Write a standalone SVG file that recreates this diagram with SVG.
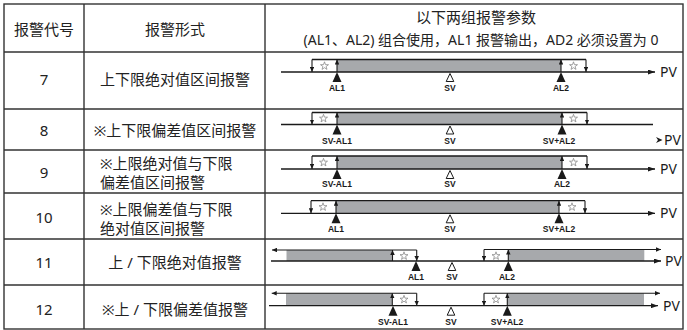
<svg xmlns="http://www.w3.org/2000/svg" width="687" height="330" viewBox="0 0 687 330">
<style>
.grid{stroke:#333;stroke-width:1.4;fill:none}
.t{font-family:"Noto Sans","Noto Sans CJK SC",sans-serif;font-size:15px;fill:#222;text-anchor:middle;dominant-baseline:central}
.tl{font-family:"Noto Sans","Noto Sans CJK SC",sans-serif;font-size:15px;fill:#222;dominant-baseline:central}
.ln{stroke:#1a1a1a;stroke-width:1.3;fill:none}
.ar{stroke:#1a1a1a;stroke-width:1.1;fill:none;marker-end:url(#sa)}
.ax{stroke:#1a1a1a;stroke-width:1.3;fill:none;marker-end:url(#ba)}
.gr{fill:#a7a9ac}
.lb{font-family:"Liberation Sans",Arial,sans-serif;font-size:8.5px;font-weight:bold;fill:#1a1a1a;text-anchor:middle}
.pv{font-family:"Noto Sans",sans-serif;font-size:14px;fill:#1a1a1a}
.st{fill:#fff;stroke:#8a8a8a;stroke-width:0.8}
.tf{fill:#1a1a1a}
.to{fill:#fff;stroke:#1a1a1a;stroke-width:1}
</style>
<defs>
<marker id="sa" viewBox="0 0 10 10" refX="10" refY="5" markerWidth="5" markerHeight="4.5" markerUnits="userSpaceOnUse" orient="auto" preserveAspectRatio="none"><path d="M0,0 L10,5 L0,10 Z" fill="#1a1a1a"/></marker>
<marker id="ba" viewBox="0 0 10 10" refX="10" refY="5" markerWidth="7" markerHeight="5" markerUnits="userSpaceOnUse" orient="auto" preserveAspectRatio="none"><path d="M0,0 L10,5 L0,10 Z" fill="#1a1a1a"/></marker>
<path id="star" class="st" d="M0,-4.2 L0.99,-1.35 L4,-1.3 L1.6,0.51 L2.47,3.4 L0,1.68 L-2.47,3.4 L-1.6,0.51 L-4,-1.3 L-0.99,-1.35 Z"/>
<path id="tf" class="tf" d="M0,0 L4.5,10 L-4.5,10 Z"/>
<path id="to" class="to" d="M0,1.5 L3.8,9.5 L-3.8,9.5 Z"/>
</defs>
<rect width="687" height="330" fill="#fff"/>
<g id="table" class="grid">
<rect x="4" y="4" width="679" height="325"/>
<path d="M84,4 V329 M265,4 V329 M4,52 H683 M4,109 H683 M4,150 H683 M4,193 H683 M4,239 H683 M4,285 H683"/>
</g>
<g id="header">
<text class="t" x="44" y="29">报警代号</text>
<text class="t" x="175" y="29">报警形式</text>
<text class="t" x="476" y="17">以下两组报警参数</text>
<text class="t" x="481" y="39" style="font-size:14px">(AL1、AL2) 组合使用，AL1 报警输出，AD2 必须设置为 0</text>
</g>
<g id="row7">
<text class="t" x="44" y="79">7</text>
<text class="t" x="175" y="79">上下限绝对值区间报警</text>
<rect class="gr" x="337" y="59.5" width="224" height="12.5"/>
<path class="ln" d="M312,59.5 H586"/>
<path class="ar" d="M312,59.5 V72"/><path class="ar" d="M337,72 V59.5"/>
<path class="ar" d="M561,72 V59.5"/><path class="ar" d="M586,59.5 V72"/>
<use href="#star" x="324.5" y="66"/><use href="#star" x="573.5" y="66"/>
<path class="ax" d="M281,72 H655"/>
<use href="#tf" x="337" y="72"/><use href="#to" x="450" y="72"/><use href="#tf" x="561" y="72"/>
<text class="lb" x="337" y="91">AL1</text><text class="lb" x="450" y="91">SV</text><text class="lb" x="561" y="91">AL2</text>
<text class="pv" x="660" y="77">PV</text>
</g>
<g id="row8">
<text class="t" x="44" y="129.5">8</text>
<text class="t" x="175" y="129.5">※上下限偏差值区间报警</text>
<rect class="gr" x="337" y="112.5" width="225" height="12"/>
<path class="ln" d="M312,112.5 H587"/>
<path class="ar" d="M312,112.5 V124.5"/><path class="ar" d="M337,124.5 V112.5"/>
<path class="ar" d="M562,124.5 V112.5"/><path class="ar" d="M587,112.5 V124.5"/>
<use href="#star" x="323.5" y="118.5"/><use href="#star" x="573.5" y="118.5"/>
<path class="ln" d="M281,124.5 H653"/>
<path class="tf" d="M656,137 L662.5,140 L656,143 L658,140 Z"/>
<use href="#tf" x="337" y="124.5"/><use href="#to" x="450" y="124.5"/><use href="#tf" x="562" y="124.5"/>
<text class="lb" x="337" y="144">SV-AL1</text><text class="lb" x="450" y="144">SV</text><text class="lb" x="559" y="144">SV+AL2</text>
<text class="pv" x="664" y="145">PV</text>
</g>
<g id="row9">
<text class="t" x="44" y="172">9</text>
<text class="tl" x="100" y="163">※上限绝对值与下限</text>
<text class="tl" x="100" y="181.5">偏差值区间报警</text>
<rect class="gr" x="337" y="156" width="225" height="13"/>
<path class="ln" d="M312,156 H587"/>
<path class="ar" d="M312,156 V169"/><path class="ar" d="M337,169 V156"/>
<path class="ar" d="M562,169 V156"/><path class="ar" d="M587,156 V169"/>
<use href="#star" x="323.5" y="162.5"/><use href="#star" x="573.5" y="162.5"/>
<path class="ax" d="M281,169 H655"/>
<use href="#tf" x="337" y="169"/><use href="#to" x="450" y="169"/><use href="#tf" x="562" y="169"/>
<text class="lb" x="337" y="187">SV-AL1</text><text class="lb" x="450" y="187">SV</text><text class="lb" x="562" y="187">AL2</text>
<text class="pv" x="660" y="174">PV</text>
</g>
<g id="row10">
<text class="t" x="44" y="216.5">10</text>
<text class="tl" x="100" y="209">※上限偏差值与下限</text>
<text class="tl" x="100" y="227.5">绝对值区间报警</text>
<rect class="gr" x="336" y="200.7" width="223" height="12.6"/>
<path class="ln" d="M311,200.7 H585"/>
<path class="ar" d="M311,200.7 V213.3"/><path class="ar" d="M336,213.3 V200.7"/>
<path class="ar" d="M559,213.3 V200.7"/><path class="ar" d="M585,200.7 V213.3"/>
<use href="#star" x="323" y="207"/><use href="#star" x="572" y="207"/>
<path class="ax" d="M281,213.3 H655"/>
<use href="#tf" x="336" y="213.3"/><use href="#to" x="450" y="213.3"/><use href="#tf" x="559" y="213.3"/>
<text class="lb" x="336" y="232">AL1</text><text class="lb" x="450" y="232">SV</text><text class="lb" x="559" y="232">SV+AL2</text>
<text class="pv" x="660" y="218">PV</text>
</g>
<g id="row11">
<text class="t" x="44" y="262">11</text>
<text class="t" x="175" y="262">上 / 下限绝对值报警</text>
<rect class="gr" x="286.5" y="250" width="106" height="11"/>
<rect class="gr" x="508.3" y="250" width="136" height="11"/>
<path class="ar" d="M416.7,250 H272"/>
<path class="ar" d="M392.5,261 V250"/><path class="ar" d="M416.7,250 V261"/>
<path class="ar" d="M484,249.5 H661"/>
<path class="ar" d="M484,249.5 V261"/><path class="ar" d="M508.3,261 V249.5"/>
<use href="#star" x="404" y="256"/><use href="#star" x="496" y="256"/>
<path class="ax" d="M271,261 H661"/>
<use href="#tf" x="416" y="261"/><use href="#to" x="452" y="261"/><use href="#tf" x="508.3" y="261"/>
<text class="lb" x="416" y="279.5">AL1</text><text class="lb" x="452" y="279.5">SV</text><text class="lb" x="507" y="279.5">AL2</text>
<text class="pv" x="665" y="266">PV</text>
</g>
<g id="row12">
<text class="t" x="44" y="309">12</text>
<text class="t" x="175" y="309">※上 / 下限偏差值报警</text>
<rect class="gr" x="286" y="293.3" width="106" height="12.4"/>
<rect class="gr" x="507.3" y="293.3" width="136.7" height="12.4"/>
<path class="ar" d="M416.7,293.3 H271.7"/>
<path class="ar" d="M392.3,305.7 V293.3"/><path class="ar" d="M416.7,293.3 V305.7"/>
<path class="ar" d="M484,293.3 H660"/>
<path class="ar" d="M484,293.3 V305.7"/><path class="ar" d="M507.3,305.7 V293.3"/>
<use href="#star" x="404" y="299.5"/><use href="#star" x="496" y="299.5"/>
<path class="ax" d="M269,305.7 H658"/>
<use href="#tf" x="393" y="305.7"/><use href="#to" x="451" y="305.7"/><use href="#tf" x="507.3" y="305.7"/>
<text class="lb" x="393" y="325">SV-AL1</text><text class="lb" x="451" y="325">SV</text><text class="lb" x="507" y="325">SV+AL2</text>
<text class="pv" x="663" y="311">PV</text>
</g>
</svg>
